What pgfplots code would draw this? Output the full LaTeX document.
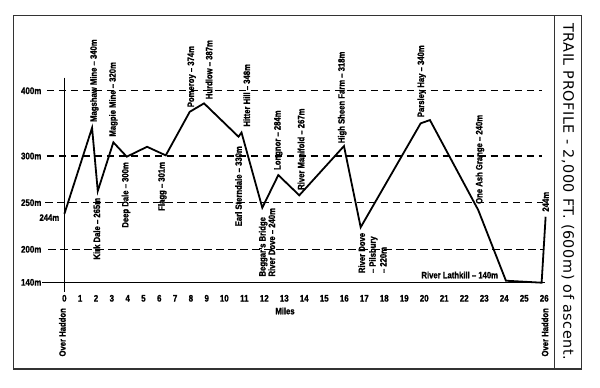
\documentclass[border=0pt]{standalone}
\usepackage{fontspec}
\usepackage{graphicx}
\usepackage{pgfplots}
\pgfplotsset{compat=1.18}
\setmainfont{Liberation Sans}[FakeStretch=0.84, BoldFeatures={FakeBold=1.2}]
\newfontfamily\titlefont{DejaVu Sans}
\tikzset{lbl/.style={font=\bfseries\fontsize{9.2}{10}\selectfont, inner sep=0pt}}
\begin{document}
\begin{tikzpicture}
\begin{axis}[
  width=600bp, height=387bp, scale only axis,
  % hand-drawn, non-uniform scales of the original profile
  x coord trafo/.code={\pgfmathparse{64.3+15.82*(#1)+1.78*max((#1)-9,0)+2.4*max((#1)-10,0)}},
  y coord trafo/.code={\pgfmathparse{0.55*((#1)-140)+0.383*max((#1)-200,0)-0.28*max((#1)-300,0)}},
  xmin=-4.0645, xmax=28.785, ymin=-50.36, ymax=538.9,
  axis line style={draw=none}, major tick length=0pt,
  clip=false,
  xtick={0,1,2,3,4,5,6,7,8,9,10,11,12,13,14,15,16,17,18,19,20,21,22,23,24,25,26},
  xticklabels={0,1,2,3,4,5,6,7,8,9,10,11,12,13,14,15,16,17,18,19,20,21,22,23,24,25,26},
  ytick={140,200,250,300,400},
  yticklabels={140m\hspace{4bp},200m,250m,300m,400m},
  tick label style={font=\bfseries\fontsize{9.5}{10}\selectfont},
  xticklabel style={anchor=center, inner sep=0pt, yshift=88.7bp},
  yticklabel style={anchor=east, inner sep=0pt, xshift=41.5bp},
]
\path (rel axis cs:0,0) rectangle (rel axis cs:1,1);
% frame
\draw[line width=1.1bp, black!80] (rel axis cs:0.02217,0.95943) rectangle (rel axis cs:0.9695,0.04651);
\draw[line width=0.9bp, black!80] (rel axis cs:0.92383,0.95943) -- (rel axis cs:0.92383,0.04651);
% reference lines
\draw[line width=1.1bp] (axis cs:-1.41,140) -- (axis cs:26.035,140);
\draw[line width=1.2bp, dash pattern=on 7.5bp off 4.5bp] (axis cs:-1.1,400) -- (axis cs:25.87,400);
\draw[line width=1.2bp, dash pattern=on 7.5bp off 4.5bp] (axis cs:-1.11,300) -- (axis cs:25.87,300);
\draw[line width=1.2bp, dash pattern=on 7.5bp off 4.5bp] (axis cs:-1.22,250) -- (axis cs:25.93,250);
\draw[line width=1.2bp, dash pattern=on 7.5bp off 4.5bp] (axis cs:-1.01,200) -- (axis cs:25.93,200);
\draw[line width=0.9bp] (axis cs:0,420) -- (axis cs:0,123);
% profile
\addplot[black, line width=1.8bp, line join=miter] coordinates {
 (0,238) (1.751,343.3) (2.111,262.5) (3.097,321) (3.944,299.3) (5.228,314.2)
 (6.41,301) (7.927,367.8) (8.83,380.7) (10.71,329.6) (10.86,336) (11.9,244.6)
 (12.7,279.6) (13.75,257.9) (15.985,315.3) (16.82,223.6) (19.82,350.1)
 (20.285,355.1) (22.7,242.1) (24.085,142.9) (25.87,139.3) (26.07,234.9)
};
% labels
\node[lbl, rotate=90, anchor=west] at ([xshift=2.3bp,yshift=5.7bp]axis cs:1.751,343.3) {Magshaw Mine -- 340m};
\node[lbl, rotate=90, anchor=west] at ([xshift=0bp,yshift=5.6bp]axis cs:3.097,321) {Magpie Mine -- 320m};
\node[lbl, rotate=90, anchor=east] at ([xshift=-1bp,yshift=-6.7bp]axis cs:2.111,262.5) {Kirk Dale -- 265m};
\node[lbl, rotate=90, anchor=east] at ([xshift=-0.7bp,yshift=-5.3bp]axis cs:3.944,299.3) {Deep Dale -- 300m};
\node[lbl, rotate=90, anchor=east] at ([xshift=-3.4bp,yshift=-6.4bp]axis cs:6.41,301) {Flagg -- 301m};
\node[lbl, rotate=90, anchor=west] at ([xshift=2bp,yshift=4.4bp]axis cs:7.927,367.8) {Pomeroy -- 374m};
\node[lbl, rotate=90, anchor=west] at ([xshift=5bp,yshift=4bp]axis cs:8.83,380.7) {Hurdlow -- 387m};
\node[lbl, rotate=90, anchor=west] at ([xshift=5.2bp,yshift=5.8bp]axis cs:10.86,336) {Hitter Hill -- 348m};
\node[lbl, rotate=90, anchor=east] at ([xshift=0bp,yshift=-9.3bp]axis cs:10.71,329.6) {Earl Sterndale -- 330m};
\node[lbl, rotate=90, anchor=west, align=left, font=\bfseries\fontsize{9.2}{9.5}\selectfont] at ([xshift=4.7bp,yshift=-69bp]axis cs:11.9,244.6) {Beggar's Bridge\\River Dove -- 240m};
\node[lbl, rotate=90, anchor=west] at ([xshift=0bp,yshift=5bp]axis cs:12.7,279.6) {Longnor -- 284m};
\node[lbl, rotate=90, anchor=west] at ([xshift=1.7bp,yshift=5.3bp]axis cs:13.75,257.9) {River Manifold -- 267m};
\node[lbl, rotate=90, anchor=west] at ([xshift=-1.7bp,yshift=2.7bp]axis cs:15.985,315.3) {High Sheen Farm -- 318m};
\node[lbl, rotate=90, anchor=west, align=left, font=\bfseries\fontsize{9.2}{10.8}\selectfont] at ([xshift=11.8bp,yshift=-46bp]axis cs:16.82,223.6) {River Dove\\-- Pilsbury\\-- 220m};
\node[lbl, rotate=90, anchor=west] at ([xshift=1bp,yshift=6bp]axis cs:19.82,350.1) {Parsley Hay -- 340m};
\node[lbl, rotate=90, anchor=west] at ([xshift=1.7bp,yshift=6bp]axis cs:22.7,242.1) {One Ash Grange -- 240m};
\node[lbl, rotate=90, anchor=west] at ([yshift=5bp]axis cs:26.07,234.9) {244m};
\node[lbl, anchor=east] at ([xshift=-7.7bp,yshift=5.7bp]axis cs:24.085,142.9) {River Lathkill -- 140m};
\node[lbl, anchor=east] at ([xshift=-5bp,yshift=-3.7bp]axis cs:0,238) {244m};
\node[lbl] at (axis cs:13.035,87.8) {Miles};
\node[lbl, rotate=90, anchor=east] at (axis cs:-0.126,93.3) {Over Haddon};
\node[lbl, rotate=90, anchor=east] at (axis cs:26.035,93.3) {Over Haddon};
% title
\node[rotate=-90, anchor=west, inner sep=0pt] at (rel axis cs:0.94667,0.9406) {\resizebox{337bp}{!}{\titlefont\addfontfeatures{LetterSpace=4}TRAIL PROFILE - 2,000 FT. (600m) of ascent.}};
\end{axis}
\end{tikzpicture}
\end{document}
